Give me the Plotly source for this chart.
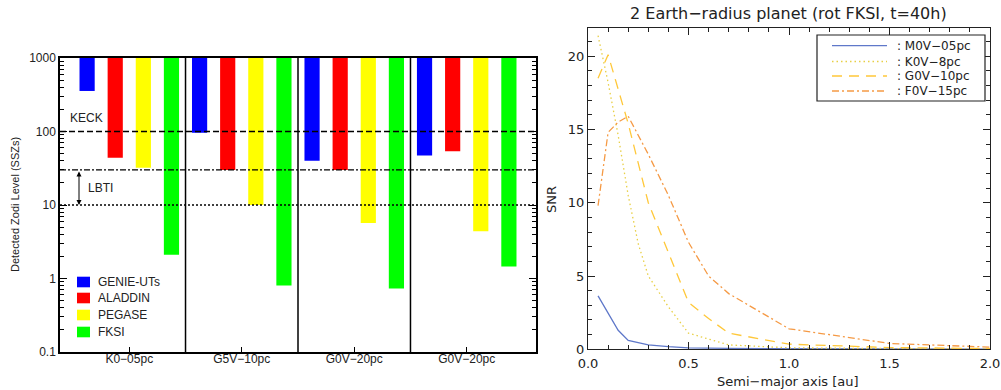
import plotly.graph_objects as go

# ---------------- data: left panel (detected zodi level, SSZs) ----------------
categories = ["K0\u221205pc", "G5V\u221210pc", "G0V\u221220pc", "G0V\u221220pc"]
instruments = ["GENIE-UTs", "ALADDIN", "PEGASE", "FKSI"]
genie = [356, 96, 40, 47]
aladdin = [44, 30, 30, 54]
pegase = [32, 10, 5.7, 4.4]
fksi = [2.1, 0.8, 0.73, 1.46]
bar_top = 1000
keck_level = 100
lbti_high = 30
lbti_low = 10

# ---------------- data: right panel (SNR vs semi-major axis) ----------------
m0v_x = [0.05, 0.1, 0.15, 0.2, 0.3, 0.4, 0.5, 0.7, 1.0, 1.5, 2.0]
m0v_y = [3.65, 2.5, 1.3, 0.6, 0.3, 0.18, 0.1, 0.06, 0.03, 0.02, 0.01]
k0v_x = [0.05, 0.1, 0.15, 0.2, 0.25, 0.3, 0.4, 0.5, 0.7, 1.0, 1.5, 2.0]
k0v_y = [21.4, 18.2, 14.6, 10.5, 7.2, 5.0, 2.9, 1.1, 0.3, 0.1, 0.05, 0.03]
g0v_x = [0.05, 0.1, 0.2, 0.3, 0.4, 0.5, 0.6, 0.7, 1.0, 1.5, 2.0]
g0v_y = [18.5, 20.1, 15.4, 10.0, 6.6, 3.2, 2.1, 1.1, 0.35, 0.12, 0.05]
f0v_x = [0.05, 0.1, 0.15, 0.2, 0.3, 0.4, 0.5, 0.6, 0.7, 0.8, 1.0, 1.5, 2.0]
f0v_y = [9.8, 14.8, 15.5, 15.9, 13.3, 10.5, 7.3, 5.0, 3.8, 3.0, 1.4, 0.4, 0.15]
line_names = [": M0V\u221205pc", ": K0V\u22128pc", ": G0V\u221210pc", ": F0V\u221215pc"]

W, H = 1001, 390
def px(x):
    return x / W
def py(y):
    return 1 - y / H

FONT = "Liberation Sans"
FONT2 = "DejaVu Sans"
fig = go.Figure()

bar_colors = ["#0000ff", "#ff0000", "#ffff00", "#00ff00"]
for name, vals, col in zip(instruments, [genie, aladdin, pegase, fksi], bar_colors):
    fig.add_trace(go.Bar(
        x=[1, 2, 3, 4], y=[bar_top - v for v in vals], base=vals,
        name=name, marker=dict(color=col, line=dict(width=0)),
        xaxis="x", yaxis="y", showlegend=False,
    ))

line_colors = ["#5f78c9", "#e8cf45", "#ffc83a", "#f59a45"]
line_dashes = ["solid", "1.5px,3px", "10px,7px", "7px,3px,2px,3px"]
for xs, ys, col, dash, nm in zip([m0v_x, k0v_x, g0v_x, f0v_x], [m0v_y, k0v_y, g0v_y, f0v_y],
                                 line_colors, line_dashes, line_names):
    fig.add_trace(go.Scatter(
        x=xs, y=ys, mode="lines", name=nm,
        line=dict(color=col, width=1.3, dash=dash),
        xaxis="x2", yaxis="y2", showlegend=False,
    ))

minor_log = [m * 10 ** e for e in range(-1, 3) for m in range(2, 10)]

fig.update_layout(
    width=W, height=H,
    margin=dict(l=0, r=0, t=0, b=0, autoexpand=False),
    paper_bgcolor="white", plot_bgcolor="white",
    font=dict(family=FONT, size=12, color="#222"),
    barmode="group", bargap=0, bargroupgap=0.46,
    showlegend=False,
    xaxis=dict(
        domain=[px(60), px(536)], range=[0.384, 4.616], automargin=False,
        tickvals=[1, 2, 3, 4], ticktext=categories,
        ticks="inside", ticklen=5, tickcolor="black", tickwidth=1,
        ticklabelstandoff=-5,
        showline=True, linecolor="black", linewidth=1.5, mirror=True,
        showgrid=False, zeroline=False, anchor="y",
        tickfont=dict(size=12, color="#222"),
    ),
    yaxis=dict(
        domain=[py(352), py(58)], type="log", range=[-1, 3], automargin=False,
        tickvals=[0.1, 1, 10, 100, 1000], ticktext=["0.1", "1", "10", "100", "1000"],
        ticks="inside", ticklen=7, tickcolor="black", tickwidth=1,
        minor=dict(tickvals=minor_log, ticks="inside", ticklen=4, tickcolor="black", tickwidth=1, showgrid=False),
        showline=True, linecolor="black", linewidth=1.5, mirror="ticks",
        showgrid=False, zeroline=False, anchor="x",
        tickfont=dict(size=12, color="#222"),
    ),
    xaxis2=dict(
        domain=[px(588), px(990)], range=[0, 2], automargin=False,
        tickvals=[0, 0.5, 1.0, 1.5, 2.0], ticktext=["0.0", "0.5", "1.0", "1.5", "2.0"],
        ticks="inside", ticklen=7, tickcolor="#222", tickwidth=1,
        ticklabelstandoff=2,
        minor=dict(dtick=0.1, ticks="inside", ticklen=4, tickcolor="#222", tickwidth=1, showgrid=False),
        showline=True, linecolor="#222", linewidth=1.3, mirror="ticks",
        showgrid=False, zeroline=False, anchor="y2",
        tickfont=dict(family=FONT2, size=13, color="#222"),
    ),
    yaxis2=dict(
        domain=[py(349.3), py(28.3)], range=[0, 21.9], automargin=False,
        tickvals=[0, 5, 10, 15, 20],
        ticks="inside", ticklen=7, tickcolor="#222", tickwidth=1,
        minor=dict(dtick=1, ticks="inside", ticklen=4, tickcolor="#222", tickwidth=1, showgrid=False),
        showline=True, linecolor="#222", linewidth=1.3, mirror="ticks",
        showgrid=False, zeroline=False, anchor="x2",
        tickfont=dict(family=FONT2, size=13, color="#222"),
    ),
)

shapes = []
for xv in [1.5, 2.5, 3.5]:
    shapes.append(dict(type="line", xref="x", yref="y domain", x0=xv, x1=xv, y0=0, y1=1,
                       line=dict(color="black", width=1.5)))
for yv, dash in [(keck_level, "6px,3px"), (lbti_high, "6px,2px,2px,2px"), (lbti_low, "2px,2px")]:
    shapes.append(dict(type="line", xref="x domain", yref="y", x0=0, x1=1, y0=yv, y1=yv,
                       line=dict(color="black", width=1.3, dash=dash)))

def label(text, x, y, size=12, family=FONT, angle=0, xanchor="center"):
    return dict(text=text, x=px(x), y=py(y), xref="paper", yref="paper",
                xanchor=xanchor, yanchor="middle", textangle=angle, showarrow=False,
                font=dict(family=family, size=size, color="#222"))

annotations = [
    label("KECK", 68, 118, xanchor="left"),
    label("LBTI", 86, 188, xanchor="left"),
    dict(text="", x=px(79), y=py(205), xref="paper", yref="paper", ax=0, ay=-35,
         showarrow=True, arrowhead=2, startarrowhead=2, arrowside="end+start",
         arrowwidth=1, arrowsize=1, startarrowsize=1, arrowcolor="black"),
    label("Detected Zodi Level (SSZs)", 15, 205, size=11, angle=-90),
    label("2 Earth\u2212radius planet (rot FKSI, t=40h)", 788, 14, size=16, family=FONT2),
    label("Semi\u2212major axis [au]", 788, 381, size=13, family=FONT2),
    label("SNR", 552, 200, size=13, family=FONT2, angle=-90),
]

# ---- custom legend, left panel (bar colours) ----
left_leg_y = [282, 298, 315, 332]
for name, col, yc in zip(instruments, bar_colors, left_leg_y):
    shapes.append(dict(type="rect", xref="paper", yref="paper", x0=px(77), x1=px(90),
                       y0=py(yc + 5.3), y1=py(yc - 5.3), fillcolor=col, line=dict(width=0)))
    annotations.append(label(name, 96, yc, xanchor="left"))

# ---- custom legend, right panel (line styles) ----
shapes.append(dict(type="rect", xref="paper", yref="paper", x0=px(817), x1=px(985),
                   y0=py(101), y1=py(35), fillcolor="white", line=dict(color="#222", width=1.2),
                   layer="above"))
right_leg_y = [45.7, 61.5, 76, 91]
for nm, col, dash, yc in zip(line_names, line_colors, line_dashes, right_leg_y):
    shapes.append(dict(type="line", xref="paper", yref="paper", x0=px(832), x1=px(887),
                       y0=py(yc), y1=py(yc), line=dict(color=col, width=1.3, dash=dash),
                       layer="above"))
    annotations.append(label(nm, 895, yc, size=12, family=FONT2, xanchor="left"))

fig.update_layout(shapes=shapes, annotations=annotations)

fig.write_html("out.html", config={"displayModeBar": False},
               post_script="document.body.style.margin='0px';")
